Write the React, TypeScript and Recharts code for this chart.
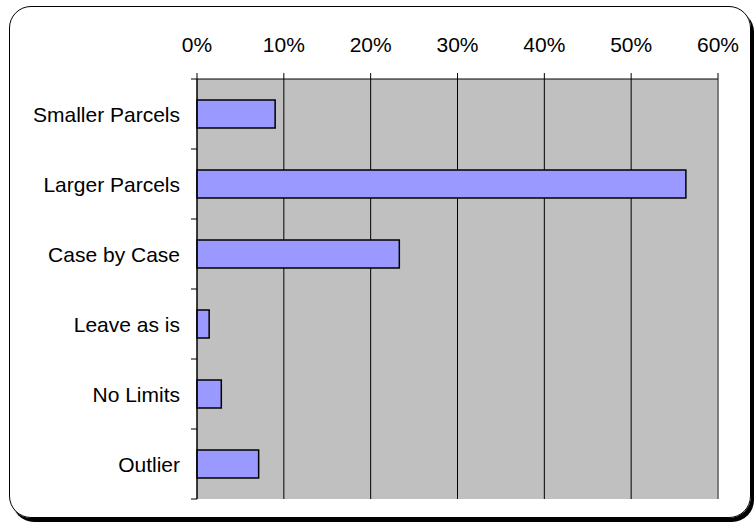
import React from "react";
import { BarChart, Bar, XAxis, YAxis, CartesianGrid, ReferenceLine } from "recharts";

const CATEGORIES = ["Smaller Parcels", "Larger Parcels", "Case by Case", "Leave as is", "No Limits", "Outlier"];
const SHARES = [9.0, 56.3, 23.3, 1.4, 2.8, 7.1];
const X_TICKS = [0, 10, 20, 30, 40, 50, 60];

const W = 756;
const H = 523;
const MARGIN = { top: 49, right: 38, bottom: 24, left: 5 };
const Y_AXIS_W = 192;
const X_AXIS_H = 30;
const AXIS_X = MARGIN.left + Y_AXIS_W;
const BAND = (H - MARGIN.top - X_AXIS_H - MARGIN.bottom) / CATEGORIES.length;
const FONT = "'Liberation Sans', Arial, sans-serif";
const FS = 21;

const data = CATEGORIES.map((name, i) => ({ name, share: SHARES[i] }));

// category labels plus the small ticks that sit between categories
function CatTick(props: any) {
  const { x, y, payload, index } = props;
  return (
    <g>
      <text x={x} y={y} dy="0.36em" textAnchor="end" fontSize={FS} fill="#000" fontFamily={FONT}>
        {payload.value}
      </text>
      <line x1={AXIS_X - 6} x2={AXIS_X} y1={y - BAND / 2} y2={y - BAND / 2} stroke="#000" />
      {index === CATEGORIES.length - 1 && (
        <line x1={AXIS_X - 6} x2={AXIS_X} y1={y + BAND / 2} y2={y + BAND / 2} stroke="#000" />
      )}
    </g>
  );
}

export default function App() {
  return (
    <div style={{ position: "absolute", left: 0, top: 0, width: W, height: H, background: "#fff" }}>
      <div
        style={{
          position: "absolute",
          left: 9,
          top: 6,
          width: 742,
          height: 512,
          boxSizing: "border-box",
          border: "1px solid #000",
          borderRadius: 22,
          boxShadow: "3px 4px 0 #000",
        }}
      />
      <div style={{ position: "absolute", left: 0, top: 0 }}>
        <BarChart width={W} height={H} data={data} layout="vertical" margin={MARGIN} barSize={28}>
          <CartesianGrid horizontal={false} vertical stroke="#000" fill="#C0C0C0" fillOpacity={1} />
          <XAxis
            type="number"
            orientation="top"
            domain={[0, 60]}
            ticks={X_TICKS}
            height={X_AXIS_H}
            tickSize={6}
            tickMargin={21}
            stroke="#000"
            tick={{ fontSize: FS, fill: "#000", fontFamily: FONT }}
            tickFormatter={(v: number) => `${v}%`}
            interval={0}
          />
          <XAxis
            xAxisId="bottom"
            type="number"
            orientation="bottom"
            domain={[0, 60]}
            height={0}
            tick={false}
            tickLine={false}
            stroke="#808080"
          />
          <YAxis
            type="category"
            dataKey="name"
            width={Y_AXIS_W}
            tickSize={6}
            tickMargin={11}
            tickLine={false}
            stroke="#000"
            tick={<CatTick />}
            interval={0}
          />
          <ReferenceLine x={60} stroke="#808080" strokeWidth={1.5} />
          <Bar dataKey="share" fill="#9999FF" stroke="#000" strokeWidth={1.5} isAnimationActive={false} />
        </BarChart>
      </div>
    </div>
  );
}
